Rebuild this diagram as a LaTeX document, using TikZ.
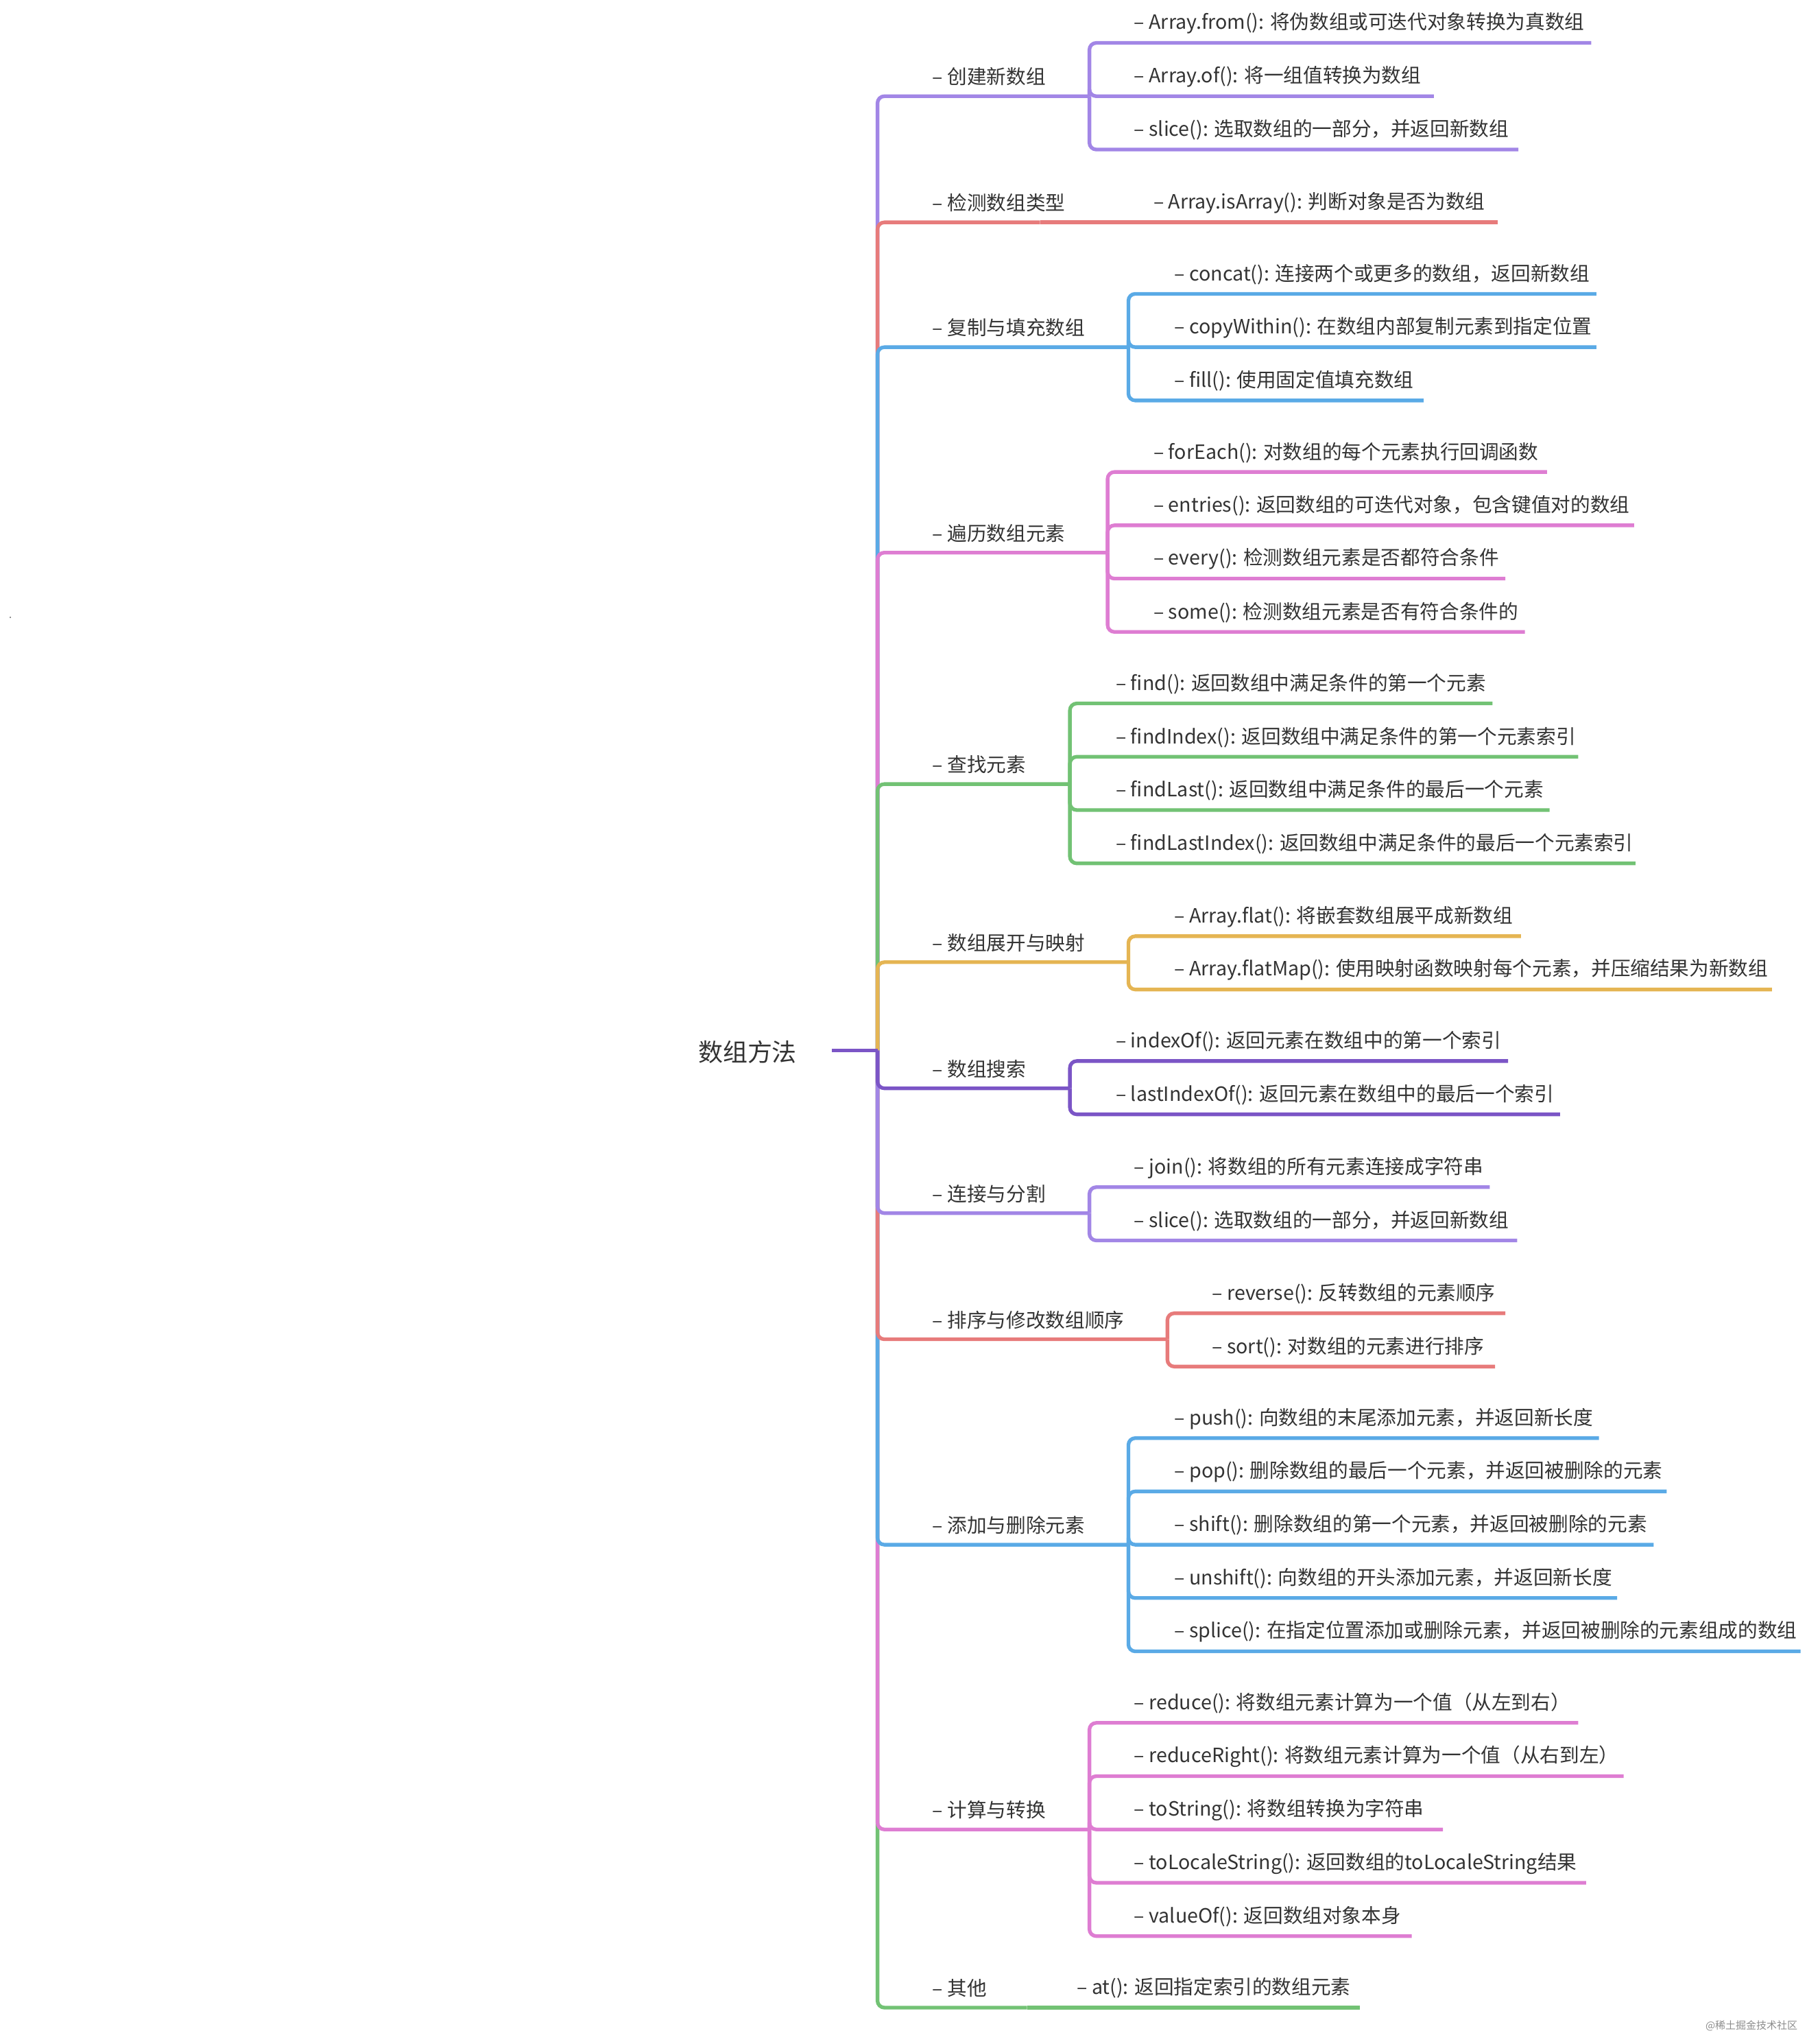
\documentclass[tikz,border=0pt]{standalone}
\usepackage{fontspec}
\setmainfont{Noto Sans CJK SC}
\definecolor{cpurple}{HTML}{A286E6}
\definecolor{cred}{HTML}{E77B7B}
\definecolor{cblue}{HTML}{5AAAE6}
\definecolor{cpink}{HTML}{DE7DD2}
\definecolor{cgreen}{HTML}{72C274}
\definecolor{corange}{HTML}{E5B553}
\definecolor{cdark}{HTML}{7B55C6}
\tikzset{
  line/.style={line width=1.6pt, rounded corners=3pt},
  btext/.style={anchor=west, inner sep=0pt, font=\fontsize{8.6}{10}\selectfont, text=black!80},
  ctext/.style={anchor=west, inner sep=0pt, font=\fontsize{8.6}{10}\selectfont, text=black!80}
}
% branch: name, colour, label y, split x, leaf text x, text
\newcommand\branch[6]{%
  \def\bc{#2}\def\bp{#1s}\def\tx{#5}%
  \node[btext] (#1) at (717,-#3-1) {– #6};
  \coordinate (#1s) at (#4,-#3-16);
  \draw[line,#2] (trunk) |- (#1s);
}
% leaf: name, label y, end x, text
\newcommand\leaf[4]{%
  \node[ctext] (#1) at (\tx,-#2-1) {– #4};
  \coordinate (#1e) at (#3,-#2-16);
  \draw[line,\bc] (\bp) |- (#1e);
}
% only leaf of a branch: straight on
\newcommand\soleleaf[4]{%
  \node[ctext] (#1) at (\tx,-#2-1) {– #4};
  \coordinate (#1e) at (#3,-#2-16);
  \draw[line,\bc] (\bp) -- (#1e);
}
\begin{document}
\begin{tikzpicture}[x=0.02cm,y=0.02cm]
\useasboundingbox (0,0) rectangle (1390,-1572);

\node[inner sep=0pt, font=\fontsize{10.8}{12}\selectfont, text=black!80] (root) at (575,-809) {数组方法};
\coordinate (rootr) at (640,-808);
\coordinate (trunk) at (675,-808);

% above the root
\branch{create}{cpurple}{58}{838}{872}{创建新数组}
\leaf{from}{17}{1224}{Array.from(): 将伪数组或可迭代对象转换为真数组}
\leaf{of}{58}{1103}{Array.of(): 将一组值转换为数组}
\leaf{slicea}{99}{1168}{slice(): 选取数组的一部分，并返回新数组}

\branch{check}{cred}{155}{800}{887}{检测数组类型}
\soleleaf{isarray}{155}{1152}{Array.isArray(): 判断对象是否为数组}

\branch{copy}{cblue}{251}{868}{903}{复制与填充数组}
\leaf{concat}{210}{1228}{concat(): 连接两个或更多的数组，返回新数组}
\leaf{copyw}{251}{1228}{copyWithin(): 在数组内部复制元素到指定位置}
\leaf{fill}{292}{1095}{fill(): 使用固定值填充数组}

\branch{iter}{cpink}{409}{852}{887}{遍历数组元素}
\leaf{foreach}{347}{1190}{forEach(): 对数组的每个元素执行回调函数}
\leaf{entries}{388}{1257}{entries(): 返回数组的可迭代对象，包含键值对的数组}
\leaf{every}{429}{1158}{every(): 检测数组元素是否都符合条件}
\leaf{some}{470}{1173}{some(): 检测数组元素是否有符合条件的}

\branch{find}{cgreen}{587}{823}{858}{查找元素}
\leaf{finda}{525}{1148}{find(): 返回数组中满足条件的第一个元素}
\leaf{findi}{566}{1214}{findIndex(): 返回数组中满足条件的第一个元素索引}
\leaf{findl}{607}{1192}{findLast(): 返回数组中满足条件的最后一个元素}
\leaf{findli}{648}{1258}{findLastIndex(): 返回数组中满足条件的最后一个元素索引}

\branch{flat}{corange}{724}{868}{903}{数组展开与映射}
\leaf{flata}{704}{1170}{Array.flat(): 将嵌套数组展平成新数组}
\leaf{flatmap}{745}{1363}{Array.flatMap(): 使用映射函数映射每个元素，并压缩结果为新数组}

% below the root
\branch{other}{cgreen}{1528}{790}{828}{其他}
\soleleaf{at}{1528}{1046}{at(): 返回指定索引的数组元素}

\branch{calc}{cpink}{1391}{838}{872}{计算与转换}
\leaf{reduce}{1309}{1214}{reduce(): 将数组元素计算为一个值（从左到右）}
\leaf{reducer}{1350}{1249}{reduceRight(): 将数组元素计算为一个值（从右到左）}
\leaf{tostr}{1391}{1110}{toString(): 将数组转换为字符串}
\leaf{tolocale}{1432}{1220}{toLocaleString(): 返回数组的toLocaleString结果}
\leaf{valueof}{1473}{1086}{valueOf(): 返回数组对象本身}

\branch{addrm}{cblue}{1172}{868}{903}{添加与删除元素}
\leaf{push}{1090}{1230}{push(): 向数组的末尾添加元素，并返回新长度}
\leaf{pop}{1131}{1282}{pop(): 删除数组的最后一个元素，并返回被删除的元素}
\leaf{shift}{1172}{1272}{shift(): 删除数组的第一个元素，并返回被删除的元素}
\leaf{unshift}{1213}{1244}{unshift(): 向数组的开头添加元素，并返回新长度}
\leaf{splice}{1254}{1385}{splice(): 在指定位置添加或删除元素，并返回被删除的元素组成的数组}

\branch{sort}{cred}{1014}{898}{932}{排序与修改数组顺序}
\leaf{reverse}{994}{1158}{reverse(): 反转数组的元素顺序}
\leaf{sorta}{1035}{1150}{sort(): 对数组的元素进行排序}

\branch{join}{cpurple}{917}{838}{872}{连接与分割}
\leaf{joina}{897}{1146}{join(): 将数组的所有元素连接成字符串}
\leaf{sliceb}{938}{1167}{slice(): 选取数组的一部分，并返回新数组}

\branch{search}{cdark}{821}{823}{858}{数组搜索}
\leaf{indexof}{800}{1160}{indexOf(): 返回元素在数组中的第一个索引}
\leaf{lastindexof}{841}{1200}{lastIndexOf(): 返回元素在数组中的最后一个索引}

\draw[line,cdark] (rootr) -- (trunk);

\node[inner sep=0pt, font=\fontsize{4.5}{5}\selectfont, text=black!45, anchor=east] (mark) at (1383,-1558) {@稀土掘金技术社区};
\node[inner sep=0pt, font=\tiny, text=black!50] (dot) at (8,-475) {.};
\end{tikzpicture}
\end{document}
